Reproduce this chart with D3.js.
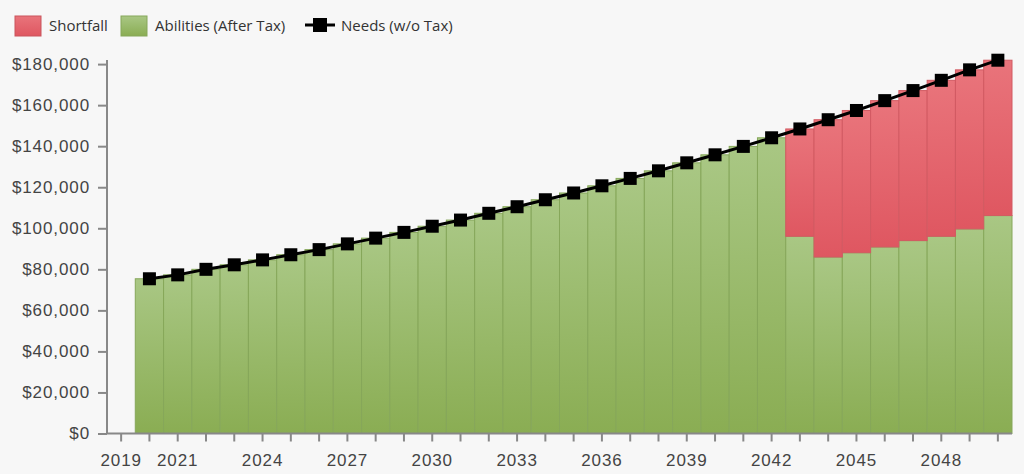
<!DOCTYPE html>
<html>
<head>
<meta charset="utf-8">
<script src="https://cdn.jsdelivr.net/npm/d3@7"></script>
<style>
  html, body { margin: 0; padding: 0; background: #f7f7f7; }
  svg { display: block; font-family: "Open Sans", sans-serif; }
  .axis text { fill: #444; font-size: 17px; letter-spacing: 0.9px; }
  .axis path, .axis line { stroke: #888; stroke-width: 2; }
  .legend text { fill: #333; font-size: 15px; }
</style>
</head>
<body>
<div id="chart"></div>
<script>
const years = d3.range(2019, 2051);
// Needs (w/o Tax), 2019 has no value
const needs = [null,
  75400, 77300, 80000, 82200, 84600, 87100, 89600, 92400, 95200, 98000,
  101000, 104000, 107300, 110500, 113900, 117200, 120700, 124300, 128000, 131900,
  135800, 139900, 144100, 148400, 152900, 157400, 162200, 167100, 172100, 177200, 181900];
// Abilities (After Tax)
const abilities = [0,
  75400, 77300, 80000, 82200, 84600, 87100, 89600, 92400, 95200, 98000,
  101000, 104000, 107300, 110500, 113900, 117200, 120700, 124300, 128000, 131900,
  135800, 139900, 144100, 96100, 86000, 88100, 90900, 94000, 96100, 99700, 106200];
const yTicks = [0, 20000, 40000, 60000, 80000, 100000, 120000, 140000, 160000, 180000];
const xTickLabels = [2019, 2021, 2024, 2027, 2030, 2033, 2036, 2039, 2042, 2045, 2048];

const W = 1024, H = 474;
const svg = d3.select("#chart").append("svg").attr("width", W).attr("height", H);

const defs = svg.append("defs");
function grad(id, top, bottom) {
  const lg = defs.append("linearGradient").attr("id", id)
    .attr("x1", 0).attr("y1", 0).attr("x2", 0).attr("y2", 1);
  lg.append("stop").attr("offset", "0%").attr("stop-color", top);
  lg.append("stop").attr("offset", "100%").attr("stop-color", bottom);
}
grad("gGreen", "#a9c784", "#8aad53");
grad("gRed", "#e9747b", "#df5761");

const x = d3.scaleBand().domain(years).range([107, 1012]).padding(0);
const y = d3.scaleLinear().domain([0, 182000]).range([433.5, 60]);

const rows = years.map((yr, i) => ({
  year: yr,
  need: needs[i],
  ability: abilities[i],
  shortfall: needs[i] == null ? 0 : Math.max(0, needs[i] - abilities[i])
}));

// bars
const g = svg.append("g");
g.selectAll(".ab").data(rows.filter(d => d.ability > 0)).join("rect")
  .attr("x", d => x(d.year)).attr("width", x.bandwidth())
  .attr("y", d => y(d.ability)).attr("height", d => y(0) - y(d.ability))
  .attr("fill", "url(#gGreen)").attr("stroke", "#86a75a").attr("stroke-width", 1);

g.selectAll(".sf").data(rows.filter(d => d.shortfall > 0)).join("rect")
  .attr("x", d => x(d.year)).attr("width", x.bandwidth())
  .attr("y", d => y(d.ability + d.shortfall)).attr("height", d => y(d.ability) - y(d.ability + d.shortfall))
  .attr("fill", "url(#gRed)").attr("stroke", "#d25a62").attr("stroke-width", 1);

// axes
const yAxis = svg.append("g").attr("class", "axis").attr("transform", "translate(107,0)")
  .call(d3.axisLeft(y).tickValues(yTicks).tickSize(9).tickPadding(8)
    .tickFormat(d => "$" + d3.format(",")(d)));
yAxis.select(".domain").attr("d", `M0,${y(182000)}V${y(0)}`);

const xAxis = svg.append("g").attr("class", "axis").attr("transform", `translate(0,${y(0)})`)
  .call(d3.axisBottom(x).tickSize(8).tickPadding(8)
    .tickFormat(d => xTickLabels.includes(d) ? d : ""));
xAxis.select(".domain").attr("d", "M107,0H1012");
xAxis.selectAll("text").attr("dy", "0.95em");

// needs line
const pts = rows.filter(d => d.need != null);
const cx = d => x(d.year) + x.bandwidth() / 2;
svg.append("path").datum(pts)
  .attr("d", d3.line().x(cx).y(d => y(d.need)))
  .attr("fill", "none").attr("stroke", "#000").attr("stroke-width", 3);
svg.selectAll(".mk").data(pts).join("rect")
  .attr("x", d => cx(d) - 6.5).attr("y", d => y(d.need) - 6.5)
  .attr("width", 13).attr("height", 13).attr("fill", "#000");

// legend
const lg = svg.append("g").attr("class", "legend");
lg.append("rect").attr("x", 15).attr("y", 16).attr("width", 26).attr("height", 20)
  .attr("fill", "url(#gRed)").attr("stroke", "#c9545c");
lg.append("text").attr("x", 49).attr("y", 26).attr("dy", "0.35em").text("Shortfall");
lg.append("rect").attr("x", 121).attr("y", 16).attr("width", 26).attr("height", 20)
  .attr("fill", "url(#gGreen)").attr("stroke", "#86a75a");
lg.append("text").attr("x", 155).attr("y", 26).attr("dy", "0.35em").text("Abilities (After Tax)");
lg.append("line").attr("x1", 305).attr("x2", 335).attr("y1", 25).attr("y2", 25)
  .attr("stroke", "#000").attr("stroke-width", 3);
lg.append("rect").attr("x", 313).attr("y", 18).attr("width", 14).attr("height", 14).attr("fill", "#000");
lg.append("text").attr("x", 341).attr("y", 26).attr("dy", "0.35em").text("Needs (w/o Tax)");
</script>
</body>
</html>
